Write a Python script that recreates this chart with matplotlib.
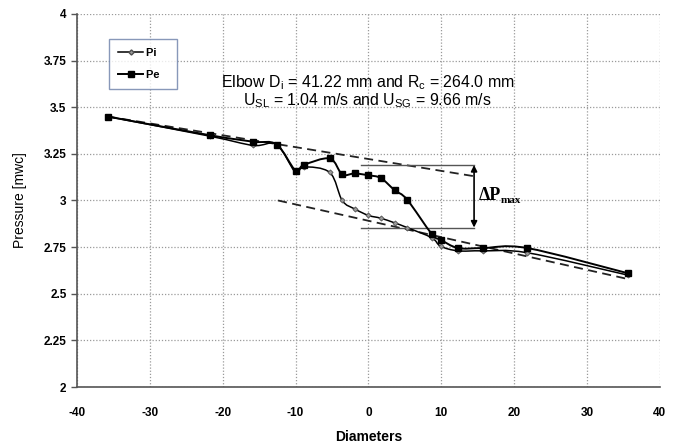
import numpy as np
import matplotlib.pyplot as plt
from matplotlib.path import Path
from matplotlib.patches import PathPatch

plt.rcParams['font.family'] = ['Liberation Sans Narrow', 'Liberation Sans', 'DejaVu Sans']

# positions along the pipe (in diameters) and the two pressure series
diam = [-35.8, -21.8, -15.8, -12.6, -10.0, -8.9, -5.3, -3.6, -1.9, 0.0, 1.7,
        3.6, 5.3, 8.7, 9.9, 12.3, 15.7, 21.8, 35.6]
pi_vals = [3.45, 3.345, 3.295, 3.30, 3.15, 3.18, 3.15, 3.0, 2.955, 2.92, 2.905,
           2.88, 2.855, 2.80, 2.755, 2.73, 2.73, 2.72, 2.60]
pe_vals = [3.45, 3.35, 3.315, 3.30, 3.16, 3.19, 3.225, 3.14, 3.145, 3.135, 3.12,
           3.055, 3.005, 2.82, 2.79, 2.745, 2.745, 2.745, 2.61]

xticks = [-40, -30, -20, -10, 0, 10, 20, 30, 40]
xticklabels = ['-40', '-30', '-20', '-10', '0', '10', '20', '30', '40']
yticks = [2, 2.25, 2.5, 2.75, 3, 3.25, 3.5, 3.75, 4]
yticklabels = ['2', '2.25', '2.5', '2.75', '3', '3.25', '3.5', '3.75', '4']

# straight-pipe trend lines upstream / downstream
up_x, up_y = [-35.8, 14.5], [3.45, 3.13]
dn_x, dn_y = [-12.4, 35.5], [3.0, 2.58]
# pressure-jump bracket
dp_x = [-1.0, 14.5]
dp_top, dp_bot = 3.19, 2.855


def smooth_path(x, y, k=1/6.0):
    # Catmull-Rom style bezier through the points (like a spreadsheet "smoothed line")
    p = np.column_stack([x, y])
    verts = [p[0]]
    codes = [Path.MOVETO]
    n = len(p)
    for i in range(n - 1):
        p0 = p[i - 1] if i > 0 else p[i]
        p3 = p[i + 2] if i + 2 < n else p[i + 1]
        c1 = p[i] + (p[i + 1] - p0) * k
        c2 = p[i + 1] - (p3 - p[i]) * k
        verts += [c1, c2, p[i + 1]]
        codes += [Path.CURVE4] * 3
    return Path(verts, codes)


fig = plt.figure(figsize=(6.81, 4.48), dpi=100)
ax = fig.add_axes([0.113, 0.136, 0.856, 0.833])

ax.add_patch(PathPatch(smooth_path(diam, pi_vals), fill=False, ec='black', lw=1.1, zorder=3))
ax.add_patch(PathPatch(smooth_path(diam, pe_vals), fill=False, ec='black', lw=1.4, zorder=3))
ax.plot(diam, pi_vals, ls='none', marker='D', ms=2.6, mfc='#9a9a9a', mec='#505050', mew=0.6, zorder=4)
ax.plot(diam, pe_vals, ls='none', marker='s', ms=4.5, color='black', zorder=4)

# legend entries drawn as proxies
ax.plot([], [], color='black', lw=1.1, marker='D', ms=2.6, mfc='#9a9a9a', mec='#505050', label='Pi')
ax.plot([], [], color='black', lw=1.4, marker='s', ms=4.5, label='Pe')
leg = ax.legend(loc='upper left', bbox_to_anchor=(0.055, 0.932), frameon=True, fancybox=False,
                handlelength=2.3, handletextpad=0.2, labelspacing=1.1,
                borderpad=0.8, borderaxespad=0, prop={'size': 8, 'weight': 'bold'})
leg.get_frame().set_edgecolor('#6a7fa8')
leg.get_frame().set_linewidth(1.0)
for t in leg.get_texts():
    t.set_text(t.get_text() + '   ')

ax.plot(up_x, up_y, ls=(0, (5, 3)), color='#222222', lw=1.3, zorder=2)
ax.plot(dn_x, dn_y, ls=(0, (5, 3)), color='#222222', lw=1.3, zorder=2)

ax.plot(dp_x, [dp_top, dp_top], color='#555555', lw=1.0, zorder=2)
ax.plot(dp_x, [dp_bot, dp_bot], color='#555555', lw=1.0, zorder=2)
ax.annotate('', xy=(dp_x[1], dp_bot), xytext=(dp_x[1], dp_top),
            arrowprops=dict(arrowstyle='<|-|>', color='black', lw=1.2,
                            mutation_scale=9, shrinkA=0, shrinkB=0))
ax.text(15.1, 3.025, '\u0394P', fontsize=13, family='Liberation Serif', fontweight='bold',
        va='center', ha='left')
ax.text(18.2, 3.0, 'max', fontsize=8, family='Liberation Serif', fontweight='bold',
        va='center', ha='left')

ax.text(-0.1, 3.63, r'Elbow D$_\mathregular{i}$ = 41.22 mm and R$_\mathregular{c}$ = 264.0 mm',
        ha='center', va='center', fontsize=11.4)
ax.text(-0.1, 3.535, r'U$_\mathregular{SL}$ = 1.04 m/s and U$_\mathregular{SG}$ = 9.66 m/s',
        ha='center', va='center', fontsize=11.4)

ax.set_xlim(-40, 40)
ax.set_ylim(2, 4)
ax.set_xticks(xticks)
ax.set_xticklabels(xticklabels)
ax.set_yticks(yticks)
ax.set_yticklabels(yticklabels)
ax.grid(True, ls=(0, (1, 1.5)), color='#9a9a9a', lw=0.9)
ax.set_axisbelow(True)
for s in ['top', 'right']:
    ax.spines[s].set_visible(False)
for s in ['left', 'bottom']:
    ax.spines[s].set_color('#555555')
    ax.spines[s].set_linewidth(1.2)
ax.tick_params(axis='x', length=0, pad=14, labelsize=8.5)
ax.tick_params(axis='y', length=4, width=1, color='#555555', labelsize=8.5)
for lab in ax.get_xticklabels() + ax.get_yticklabels():
    lab.set_fontweight('bold')

ax.set_xlabel('Diameters', fontsize=10, fontweight='bold', labelpad=8)
ax.set_ylabel('Pressure [mwc]', fontsize=10, labelpad=12)

fig.savefig('out.png', dpi=100)
